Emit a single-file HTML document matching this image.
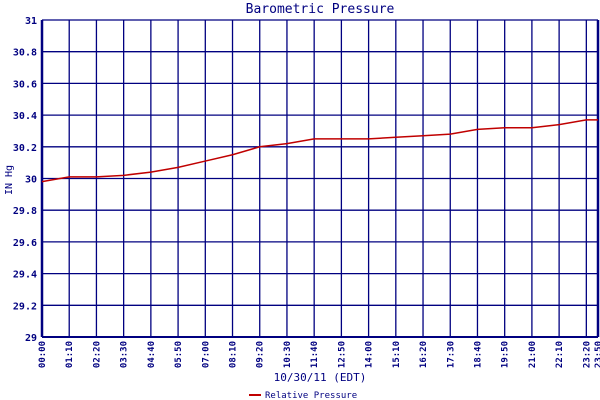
<!DOCTYPE html>
<html><head><meta charset="utf-8"><style>
html,body{margin:0;padding:0;background:#fff;}
svg{display:block;}
text{font-family:"DejaVu Sans Mono","Liberation Mono",monospace;fill:#000080;}
</style></head><body>
<svg id="chart" width="600" height="400">
<text x="320" y="13" font-size="13" text-anchor="middle">Barometric Pressure</text>
<text transform="translate(12,180) rotate(-90)" font-size="10" text-anchor="middle">IN Hg</text>
<text x="320" y="381" font-size="11" text-anchor="middle">10/30/11 (EDT)</text>
<g>
<line x1="249" y1="395" x2="261" y2="395" stroke="#c00000" stroke-width="2"/>
<text x="265" y="398" font-size="9">Relative Pressure</text>
</g>
<g id="grid"></g><g id="labels"></g>
<polyline id="line" fill="none" stroke="#c00000" stroke-width="1.5"/>
</svg>
<script>
const times = ["00:00","01:10","02:20","03:30","04:40","05:50","07:00","08:10","09:20","10:30","11:40","12:50","14:00","15:10","16:20","17:30","18:40","19:50","21:00","22:10","23:20","23:50"];
const pressure = [29.98,30.01,30.01,30.02,30.04,30.07,30.11,30.15,30.20,30.22,30.25,30.25,30.25,30.26,30.27,30.28,30.31,30.32,30.32,30.34,30.37,30.37];
const yTicks = [29,29.2,29.4,29.6,29.8,30,30.2,30.4,30.6,30.8,31];
const yTickLabels = ["29","29.2","29.4","29.6","29.8","30","30.2","30.4","30.6","30.8","31"];
const X0=42,X1=598,Y0=337,Y1=20;
function mins(t){const p=t.split(":");return +p[0]*60+ +p[1];}
const tMax=mins(times[times.length-1]);
function xs(t){return X0+(X1-X0)*mins(t)/tMax;}
function ys(v){return Y0-(Y0-Y1)*(v-29)/2;}
const NS="http://www.w3.org/2000/svg";
const g=document.getElementById("grid"), lb=document.getElementById("labels");
yTicks.forEach((v,i)=>{
 const l=document.createElementNS(NS,"line");
 
 
 l.setAttribute("x1",X0);l.setAttribute("x2",X1);l.setAttribute("y1",ys(v));l.setAttribute("y2",ys(v));
 l.setAttribute("stroke","#000080");l.setAttribute("stroke-width",v===29?2:1.3);g.appendChild(l);
 const t=document.createElementNS(NS,"text");
 
 
 t.setAttribute("x",37);t.setAttribute("y",ys(v)+4);t.setAttribute("text-anchor","end");t.setAttribute("font-size","10");t.setAttribute("font-weight","bold");
 t.textContent=yTickLabels[i];lb.appendChild(t);
});
times.forEach((tm,i)=>{
 const x=xs(tm);
 const l=document.createElementNS(NS,"line");
 
 
 l.setAttribute("x1",x);l.setAttribute("x2",x);l.setAttribute("y1",Y1);l.setAttribute("y2",Y0);
 l.setAttribute("stroke","#000080");l.setAttribute("stroke-width",(i===0||i===times.length-1)?2.5:1.3);g.appendChild(l);
 const t=document.createElementNS(NS,"text");
 
 
 t.setAttribute("transform","translate("+(x+3)+",341) rotate(-90)");t.setAttribute("text-anchor","end");t.setAttribute("font-size","9");t.setAttribute("font-weight","bold");
 t.textContent=tm;lb.appendChild(t);
});
document.getElementById("line").setAttribute("points",times.map((tm,i)=>xs(tm)+","+ys(pressure[i])).join(" "));
</script>
</body></html>
